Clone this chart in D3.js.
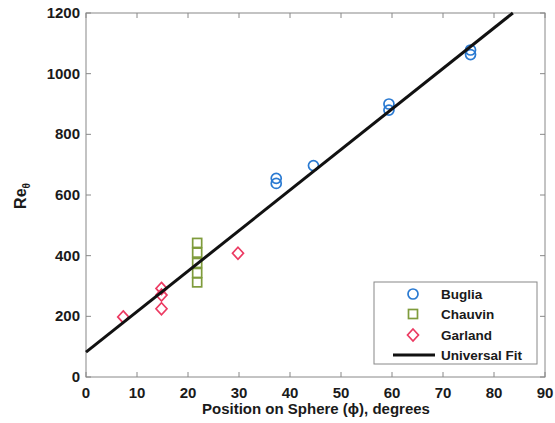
<!DOCTYPE html>
<html><head><meta charset="utf-8">
<script src="https://cdn.jsdelivr.net/npm/d3@7"></script>
<style>body{margin:0;background:#fff}svg{display:block;font-family:"Liberation Sans",Arial,sans-serif}</style>
</head><body><svg id="c" width="555" height="423"></svg>
<script>
const bugliaX = [37.3, 37.3, 44.6, 59.4, 59.4, 75.4, 75.4];
const bugliaY = [655, 638, 697, 900, 880, 1078, 1063];
const chauvinX = [21.8, 21.8, 21.8, 21.8, 21.8];
const chauvinY = [442, 410, 376, 343, 312];
const garlandX = [7.3, 14.8, 14.8, 14.8, 29.8];
const garlandY = [198, 292, 270, 225, 408];
const fitX = [0, 83.7];
const fitY = [82, 1200];
const xTicks = [0,10,20,30,40,50,60,70,80,90];
const yTicks = [0,200,400,600,800,1000,1200];
const legendLabels = ["Buglia","Chauvin","Garland","Universal Fit"];

const svg = d3.select("#c");
const L=86, R=545, T=13, B=377;
const x = d3.scaleLinear().domain([0,90]).range([L,R]);
const y = d3.scaleLinear().domain([0,1200]).range([B,T]);
const axisCol="#888";
const txtCol="#1a1a1a";

svg.append("rect").attr("x",L).attr("y",T).attr("width",R-L).attr("height",B-T)
  .attr("fill","none").attr("stroke",axisCol).attr("stroke-width",1);

const g = svg.append("g");
xTicks.forEach(t=>{
  g.append("line").attr("x1",x(t)).attr("x2",x(t)).attr("y1",B).attr("y2",B-5).attr("stroke",axisCol);
  g.append("line").attr("x1",x(t)).attr("x2",x(t)).attr("y1",T).attr("y2",T+5).attr("stroke",axisCol);
});
yTicks.forEach(t=>{
  g.append("line").attr("x1",L).attr("x2",L+5).attr("y1",y(t)).attr("y2",y(t)).attr("stroke",axisCol);
  g.append("line").attr("x1",R).attr("x2",R-5).attr("y1",y(t)).attr("y2",y(t)).attr("stroke",axisCol);
});
svg.append("g").selectAll("text").data(xTicks).join("text")
  .attr("x",d=>x(d)).attr("y",398).attr("text-anchor","middle").attr("font-weight","bold")
  .attr("font-size",15).attr("fill",txtCol).text(d=>d);
svg.append("g").selectAll("text").data(yTicks).join("text")
  .attr("x",80).attr("y",d=>y(d)+5).attr("text-anchor","end").attr("font-weight","bold")
  .attr("font-size",15).attr("fill",txtCol).text(d=>d);

svg.append("text").attr("x",316).attr("y",414).attr("text-anchor","middle").attr("font-weight","bold")
  .attr("font-size",15).attr("fill",txtCol).text("Position on Sphere (\u03d5), degrees");
const yl = svg.append("text").attr("transform","translate(26,196) rotate(-90)")
  .attr("text-anchor","middle").attr("font-size",16).attr("font-weight","bold").attr("fill",txtCol);
yl.append("tspan").text("Re");
yl.append("tspan").attr("font-size",10).attr("dy",4).text("\u03b8");

const colB="#2a7ad2", colC="#7f9c3c", colG="#ec3a62";
const sym = {
  circle:(s,cx,cy)=>s.append("circle").attr("cx",cx).attr("cy",cy).attr("r",5),
  square:(s,cx,cy)=>s.append("rect").attr("x",cx-4.5).attr("y",cy-4.5).attr("width",9).attr("height",9),
  diamond:(s,cx,cy)=>s.append("path").attr("d",`M${cx},${cy-6}L${cx+5.5},${cy}L${cx},${cy+6}L${cx-5.5},${cy}Z`)
};
const pts = svg.append("g").attr("fill","none").attr("stroke-width",1.7);
chauvinX.forEach((v,i)=>sym.square(pts,x(v),y(chauvinY[i])).attr("stroke",colC));
garlandX.forEach((v,i)=>sym.diamond(pts,x(v),y(garlandY[i])).attr("stroke",colG));
bugliaX.forEach((v,i)=>sym.circle(pts,x(v),y(bugliaY[i])).attr("stroke",colB));

svg.append("path").datum(fitX.map((v,i)=>[v,fitY[i]]))
  .attr("d",d3.line().x(d=>x(d[0])).y(d=>y(d[1])))
  .attr("stroke","#111").attr("stroke-width",3).attr("fill","none");

const lg = svg.append("g");
lg.append("rect").attr("x",374).attr("y",282).attr("width",163).attr("height",82)
  .attr("fill","#fff").attr("stroke",axisCol);
const rowsY=[294,314,335,355];
sym.circle(lg,413,rowsY[0]).attr("fill","none").attr("stroke",colB).attr("stroke-width",1.7);
sym.square(lg,413,rowsY[1]).attr("fill","none").attr("stroke",colC).attr("stroke-width",1.7);
sym.diamond(lg,413,rowsY[2]).attr("fill","none").attr("stroke",colG).attr("stroke-width",1.7);
lg.append("line").attr("x1",393).attr("x2",435).attr("y1",rowsY[3]).attr("y2",rowsY[3]).attr("stroke","#111").attr("stroke-width",3);
legendLabels.forEach((t,i)=>lg.append("text").attr("x",441).attr("y",rowsY[i]+5).attr("font-weight","bold")
  .attr("font-size",13.5).attr("fill",txtCol).text(t));
</script></body></html>
